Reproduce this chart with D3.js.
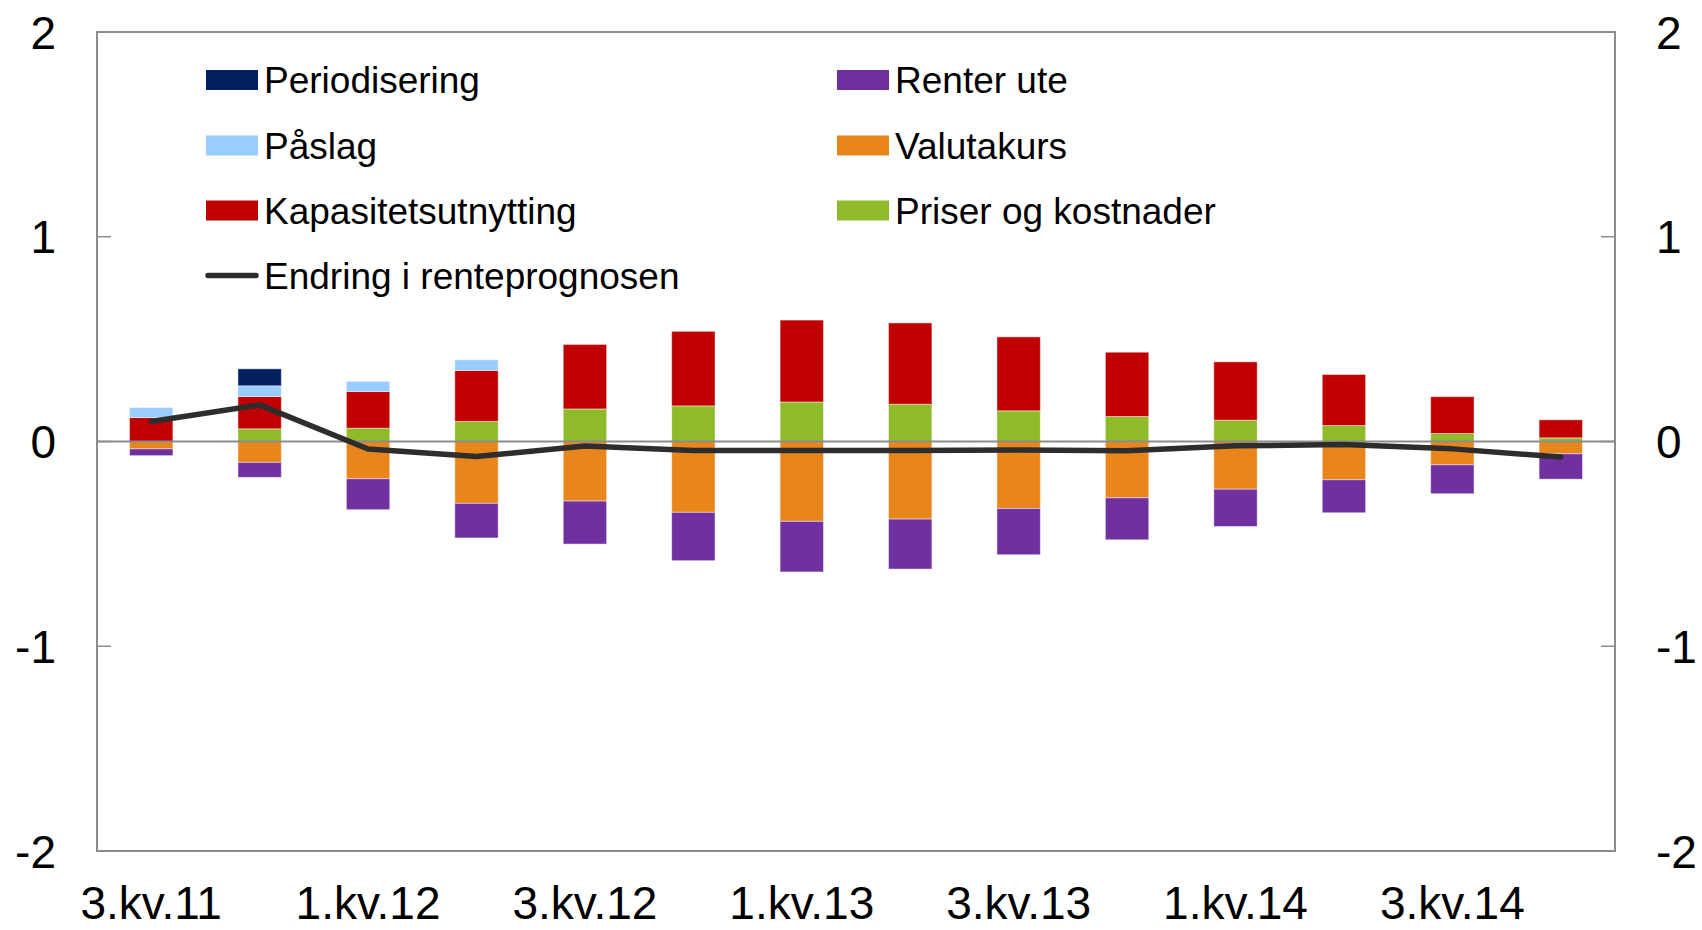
<!DOCTYPE html>
<html>
<head>
<meta charset="utf-8">
<script src="https://cdn.jsdelivr.net/npm/d3@7"></script>
<style>
  body { margin: 0; background: #fff; }
  svg { display: block; font-family: "Liberation Sans", Arial, sans-serif; }
</style>
</head>
<body>
<svg id="chart" width="1702" height="930"></svg>
<script>
const categories = ["3.kv.11","4.kv.11","1.kv.12","2.kv.12","3.kv.12","4.kv.12","1.kv.13","2.kv.13","3.kv.13","4.kv.13","1.kv.14","2.kv.14","3.kv.14","4.kv.14"];
const xTickLabels = ["3.kv.11","1.kv.12","3.kv.12","1.kv.13","3.kv.13","1.kv.14","3.kv.14"];
const yTicks = [-2, -1, 0, 1, 2];

const priser        = [0,     0.062, 0.065, 0.098, 0.159, 0.174, 0.193, 0.182, 0.150, 0.122, 0.104, 0.078, 0.039, 0.018];
const kapasitet     = [0.117, 0.158, 0.179, 0.249, 0.315, 0.364, 0.400, 0.397, 0.361, 0.314, 0.285, 0.249, 0.180, 0.088];
const paslag        = [0.049, 0.052, 0.050, 0.052, 0,     0,     0,     0,     0,     0,     0,     0,     0,     0];
const periodisering = [0,     0.083, 0,     0,     0,     0,     0,     0,     0,     0,     0,     0,     0,     0];
const valutakurs    = [-0.036,-0.102,-0.182,-0.302,-0.291,-0.346,-0.390,-0.379,-0.327,-0.275,-0.233,-0.187,-0.114,-0.060];
const renterUte     = [-0.033,-0.073,-0.151,-0.169,-0.210,-0.236,-0.247,-0.244,-0.226,-0.205,-0.182,-0.161,-0.141,-0.124];
const endring       = [0.098, 0.179, -0.037,-0.073,-0.022,-0.044,-0.044,-0.044,-0.041,-0.045,-0.021,-0.015,-0.036,-0.076];

const seriesDefs = [
  { key: "Priser og kostnader", values: priser,        color: "#8FBB2B" },
  { key: "Kapasitetsutnytting", values: kapasitet,     color: "#C00000" },
  { key: "Påslag",              values: paslag,        color: "#99CCFF" },
  { key: "Periodisering",       values: periodisering, color: "#002060" },
  { key: "Valutakurs",          values: valutakurs,    color: "#E8861C" },
  { key: "Renter ute",          values: renterUte,     color: "#7030A0" }
];
const colorOf = Object.fromEntries(seriesDefs.map(s => [s.key, s.color]));

const rows = categories.map((c, i) => {
  const r = { cat: c };
  seriesDefs.forEach(s => r[s.key] = s.values[i]);
  return r;
});

const svg = d3.select("#chart");
const L = 97, R = 1615, T = 32, B = 851;

const x = d3.scaleBand().domain(categories).range([L, R]).paddingInner(0.6).paddingOuter(0.3);
const y = d3.scaleLinear().domain([-2, 2]).range([B, T]);

const stack = d3.stack().keys(seriesDefs.map(s => s.key)).offset(d3.stackOffsetDiverging);
const stacked = stack(rows);

// bars
const g = svg.append("g");
stacked.forEach(layer => {
  g.selectAll(null).data(layer.filter(d => d[1] !== d[0])).enter().append("rect")
    .attr("x", d => x(d.data.cat))
    .attr("width", x.bandwidth())
    .attr("y", d => y(Math.max(d[0], d[1])))
    .attr("height", d => Math.abs(y(d[0]) - y(d[1])))
    .attr("fill", colorOf[layer.key])
    .attr("stroke", "#ffffff")
    .attr("stroke-opacity", 0.45)
    .attr("stroke-width", 1);
});

// frame
const axisColor = "#8c8c8c";
svg.append("rect").attr("x", L).attr("y", T).attr("width", R - L).attr("height", B - T)
  .attr("fill", "none").attr("stroke", axisColor).attr("stroke-width", 2);

// ticks inward both sides
const tickLen = 14;
yTicks.forEach(t => {
  svg.append("line").attr("x1", L).attr("x2", L + tickLen).attr("y1", y(t)).attr("y2", y(t))
    .attr("stroke", axisColor).attr("stroke-width", 1.5);
  svg.append("line").attr("x1", R - tickLen).attr("x2", R).attr("y1", y(t)).attr("y2", y(t))
    .attr("stroke", axisColor).attr("stroke-width", 1.5);
});

// zero line
svg.append("line").attr("x1", L).attr("x2", R).attr("y1", y(0)).attr("y2", y(0))
  .attr("stroke", axisColor).attr("stroke-width", 2);

// y labels
const fmt = d => String(d);
svg.selectAll(".yl").data(yTicks).enter().append("text")
  .attr("x", 56).attr("y", d => y(d)).attr("dy", "0.36em")
  .attr("text-anchor", "end").attr("font-size", 46).attr("fill", "#000").text(fmt);
svg.selectAll(".yr").data(yTicks).enter().append("text")
  .attr("x", 1656).attr("y", d => y(d)).attr("dy", "0.36em")
  .attr("text-anchor", "start").attr("font-size", 46).attr("fill", "#000").text(fmt);

// x labels
svg.selectAll(".xl").data(xTickLabels).enter().append("text")
  .attr("x", d => x(d) + x.bandwidth() / 2).attr("y", 919)
  .attr("text-anchor", "middle").attr("font-size", 46).attr("fill", "#000").text(d => d);

// line
const line = d3.line().x((d, i) => x(categories[i]) + x.bandwidth() / 2).y(d => y(d));
svg.append("path").datum(endring).attr("d", line)
  .attr("fill", "none").attr("stroke", "#2d2d2d").attr("stroke-width", 5.5)
  .attr("stroke-linecap", "round").attr("stroke-linejoin", "round");

// legend
const legendItems = [
  { name: "Periodisering", type: "rect", col: 0, row: 0 },
  { name: "Påslag", type: "rect", col: 0, row: 1 },
  { name: "Kapasitetsutnytting", type: "rect", col: 0, row: 2 },
  { name: "Endring i renteprognosen", type: "line", col: 0, row: 3 },
  { name: "Renter ute", type: "rect", col: 1, row: 0 },
  { name: "Valutakurs", type: "rect", col: 1, row: 1 },
  { name: "Priser og kostnader", type: "rect", col: 1, row: 2 }
];
const colX = [206, 837], rowY = [80, 145.5, 210.5, 275.5];
const lg = svg.append("g");
legendItems.forEach(it => {
  const lx = colX[it.col], ly = rowY[it.row];
  if (it.type === "rect") {
    lg.append("rect").attr("x", lx).attr("y", ly - 10).attr("width", 52).attr("height", 20)
      .attr("fill", colorOf[it.name]);
  } else {
    lg.append("line").attr("x1", lx + 2).attr("x2", lx + 50).attr("y1", ly).attr("y2", ly)
      .attr("stroke", "#2d2d2d").attr("stroke-width", 5.5).attr("stroke-linecap", "round");
  }
  lg.append("text").attr("x", lx + 58).attr("y", ly).attr("dy", "0.36em")
    .attr("font-size", 37).attr("fill", "#000").text(it.name);
});
</script>
</body>
</html>
